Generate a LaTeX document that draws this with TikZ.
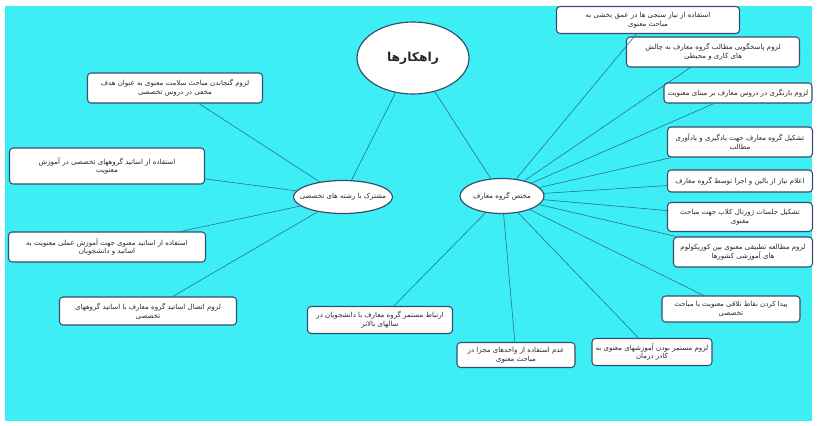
\documentclass[tikz,border=0pt]{standalone}
\usepackage{fontspec}
\usetikzlibrary{shapes.geometric}
\TeXXeTstate=1
\newfontfamily\farsi[Script=Arabic]{DejaVu Sans}
\newcommand{\fatxt}[1]{\beginR #1\endR}
\definecolor{sheet}{RGB}{62,238,245}
\definecolor{boxline}{RGB}{52,78,108}
\definecolor{linkcol}{RGB}{38,112,150}
\definecolor{inktxt}{RGB}{40,40,40}
\tikzset{
  ideabox/.style 2 args={draw=boxline, fill=white, rounded corners=3pt, line width=0.9pt,
    align=center, text=inktxt, font=\farsi\fontsize{6}{7.4}\selectfont, inner sep=1pt,
    minimum width=#1*0.03cm, minimum height=#2*0.03cm},
  hub/.style 2 args={ellipse, draw=boxline, fill=white, line width=1pt, inner sep=0pt,
    text=inktxt, font=\farsi\fontsize{6}{7.4}\selectfont, minimum width=#1*0.03cm, minimum height=#2*0.03cm},
  link/.style={draw=linkcol, line width=0.5pt}
}
\begin{document}
\begin{tikzpicture}[x=0.03cm, y=-0.03cm]
  \useasboundingbox (0,0) rectangle (817,426);
  \fill [sheet] (5,6) rectangle (812,421);
  % centres
  \node [hub={112}{72}, font=\farsi\bfseries\fontsize{10.5}{12}\selectfont] (main) at (413,58) {\fatxt{راهکارها}};
  \node [hub={98}{33}, inner xsep=-7pt] (lft) at (343,197) {\fatxt{مشترک با رشته های تخصصی}};
  \node [hub={84}{35}, inner xsep=-1pt] (rgt) at (502,196) {\fatxt{مختص گروه معارف}};
  % left side
  \node [ideabox={175}{30}] (l1) at (175,88) {\fatxt{لزوم گنجاندن مباحث سلامت معنوی به عنوان هدف}\\\fatxt{مخفی در دروس تخصصی}};
  \node [ideabox={195}{36}] (l2) at (107,166) {\fatxt{استفاده از اساتید گروههای تخصصی در آموزش}\\\fatxt{معنویت}};
  \node [ideabox={197}{30}] (l3) at (107,247) {\fatxt{استفاده از اساتید معنوی جهت آموزش عملی معنویت به}\\\fatxt{اساتید و دانشجویان}};
  \node [ideabox={177}{28}] (l4) at (148,311) {\fatxt{لزوم اتصال اساتید گروه معارف با اساتید گروههای}\\\fatxt{تخصصی}};
  % bottom
  \node [ideabox={145}{27}] (b1) at (380,320) {\fatxt{ارتباط مستمر گروه معارف با دانشجویان در}\\\fatxt{سالهای بالاتر}};
  \node [ideabox={118}{25}] (b2) at (516,355) {\fatxt{عدم استفاده از واحدهای مجزا در}\\\fatxt{مباحث معنوی}};
  % right side
  \node [ideabox={183}{27}] (r1) at (648,20) {\fatxt{استفاده از نیاز سنجی ها در عمق بخشی به}\\\fatxt{مباحث معنوی}};
  \node [ideabox={173}{30}] (r2) at (713,52) {\fatxt{لزوم پاسخگویی مطالب گروه معارف به چالش}\\\fatxt{های کاری و محیطی}};
  \node [ideabox={148}{20}] (r3) at (738,93) {\fatxt{لزوم بازنگری در دروس معارف بر مبنای معنویت}};
  \node [ideabox={145}{30}] (r4) at (740,142) {\fatxt{تشکیل گروه معارف جهت یادگیری و یادآوری}\\\fatxt{مطالب}};
  \node [ideabox={145}{22}] (r5) at (740,181) {\fatxt{اعلام نیاز از بالین و اجرا توسط گروه معارف}};
  \node [ideabox={145}{29}] (r6) at (740,217) {\fatxt{تشکیل جلسات ژورنال کلاب جهت مباحث}\\\fatxt{معنوی}};
  \node [ideabox={139}{30}] (r7) at (743,252) {\fatxt{لزوم مطالعه تطبیقی معنوی بین کوریکولوم}\\\fatxt{های آموزشی کشورها}};
  \node [ideabox={138}{26}] (r8) at (731,309) {\fatxt{پیدا کردن نقاط تلاقی معنویت با مباحث}\\\fatxt{تخصصی}};
  \node [ideabox={120}{27}] (r9) at (652,352) {\fatxt{لزوم مستمر بودن آموزشهای معنوی به}\\\fatxt{کادر درمان}};
  % links
  \draw [link] (main) -- (lft);
  \draw [link] (main) -- (rgt);
  \foreach \b in {l1,l2,l3,l4}
    \draw [link] (lft) -- (\b);
  \foreach \b in {r1,r2,r3,r4,r5,r6,r7,r8,r9,b1,b2}
    \draw [link] (rgt) -- (\b);
\end{tikzpicture}
\end{document}
